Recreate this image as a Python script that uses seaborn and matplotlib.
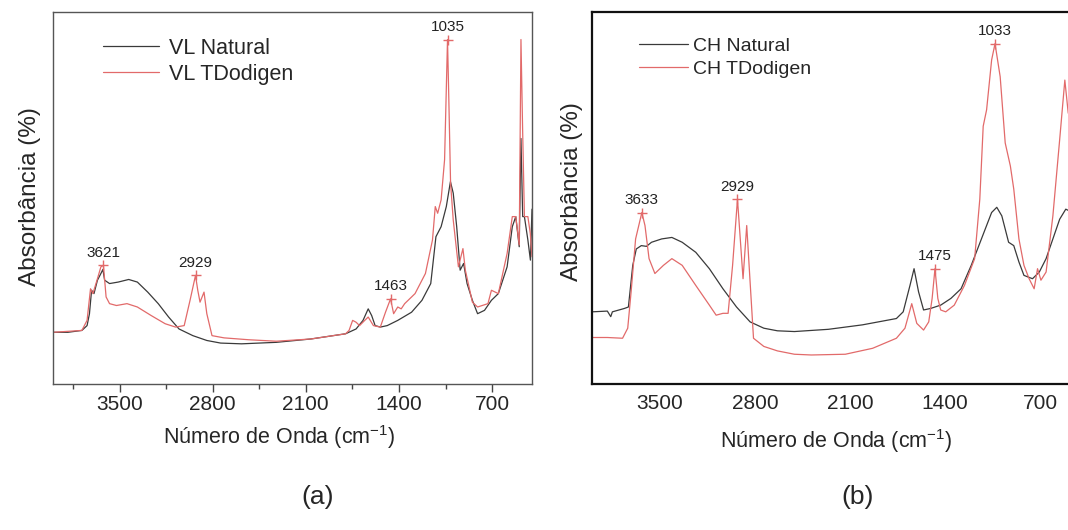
import pandas as pd
import matplotlib.pyplot as plt
import seaborn as sns

# Espectros FTIR: numero de onda (cm-1) y absorbancia (escala arbitraria 0-100)
vl_nat_wn = [4000, 3888, 3783, 3744, 3726, 3710, 3692, 3666, 3640, 3625, 3612, 3575, 3510, 3431,
             3366, 3288, 3209, 3131, 3053, 2949, 2844, 2740, 2583, 2322, 2062, 1801, 1722, 1670,
             1631, 1605, 1579, 1540, 1488, 1409, 1305, 1227, 1161, 1122, 1083, 1044, 1013, 992,
             966, 940, 914, 888, 848, 809, 757, 705, 653, 587, 548, 522, 496, 483, 470, 457,
             431, 412, 400]
vl_nat_ab = [13.9, 13.9, 14.4, 15.7, 18.9, 25.2, 24.3, 27.9, 29.7, 30.8, 27.9, 27.0, 27.4, 28.1,
             27.4, 24.7, 21.6, 18.0, 14.8, 13.0, 11.7, 11.0, 10.8, 11.2, 12.1, 13.5, 14.8, 17.1,
             20.2, 18.4, 15.7, 15.3, 15.7, 17.1, 19.3, 22.5, 27.0, 39.6, 42.3, 47.7, 54.4, 51.3,
             42.3, 30.6, 32.4, 27.0, 22.5, 18.9, 19.8, 22.5, 24.3, 31.5, 42.3, 45.0, 36.9, 66.0,
             45.0, 45.0, 38.7, 33.3, 47.0]

vl_td_wn = [4000, 3783, 3744, 3718, 3700, 3666, 3640, 3621, 3601, 3575, 3523, 3444, 3366, 3262,
            3157, 3079, 3014, 2970, 2929, 2912, 2895, 2865, 2844, 2805, 2714, 2531, 2322, 2062,
            1801, 1775, 1748, 1722, 1696, 1657, 1631, 1592, 1540, 1501, 1463, 1440, 1409, 1383,
            1357, 1279, 1201, 1148, 1127, 1109, 1083, 1057, 1035, 1025, 1012, 992, 953, 919,
            901, 848, 809, 731, 705, 653, 587, 548, 522, 496, 483, 470, 457, 431, 413, 400]
vl_td_ab = [13.9, 14.4, 17.1, 25.6, 24.3, 28.3, 31.5, 31.9, 23.4, 21.6, 21.1, 21.6, 20.7, 18.4,
            16.2, 15.3, 15.7, 22.5, 29.2, 25.2, 22.0, 24.7, 18.9, 13.0, 12.4, 11.9, 11.5, 12.1,
            13.5, 14.4, 17.1, 16.6, 15.7, 17.1, 18.0, 15.7, 15.3, 19.3, 22.9, 18.9, 20.7, 20.2,
            21.6, 24.3, 29.7, 38.7, 47.7, 45.9, 49.5, 60.3, 92.6, 76.4, 54.0, 44.1, 31.5, 36.4,
            30.6, 22.0, 20.7, 21.6, 25.2, 24.3, 35.1, 45.0, 45.0, 37.4, 92.6, 67.4, 45.0, 45.0,
            40.5, 34.2]

ch_nat_wn = [4000, 3887, 3862, 3850, 3762, 3732, 3700, 3674, 3637, 3599, 3562, 3487, 3412, 3336,
             3236, 3136, 3036, 2936, 2836, 2735, 2635, 2510, 2260, 2009, 1759, 1709, 1659, 1629,
             1596, 1559, 1508, 1433, 1358, 1283, 1208, 1133, 1095, 1058, 1020, 983, 933, 895,
             857, 820, 757, 707, 657, 607, 557, 512, 462, 420]
ch_nat_ab = [19.4, 19.6, 18.1, 19.4, 20.3, 20.7, 31.9, 36.3, 37.2, 37.0, 38.1, 39.0, 39.4, 38.1,
             35.4, 31.0, 25.6, 20.7, 16.7, 15.0, 14.3, 14.1, 14.7, 15.9, 17.6, 19.4, 26.5, 31.0,
             24.8, 19.9, 20.3, 21.2, 23.0, 25.6, 31.9, 39.0, 42.6, 46.1, 47.5, 45.2, 38.1, 37.2,
             32.8, 29.2, 28.3, 30.1, 33.7, 39.0, 44.3, 47.0, 46.1, 45.0]

ch_td_wn = [4000, 3887, 3775, 3737, 3712, 3679, 3633, 3610, 3580, 3537, 3474, 3412, 3336, 3236,
            3136, 3086, 3036, 2998, 2965, 2929, 2905, 2888, 2861, 2836, 2811, 2735, 2635, 2510,
            2385, 2135, 1934, 1759, 1696, 1646, 1609, 1559, 1521, 1496, 1475, 1454, 1433, 1396,
            1333, 1258, 1183, 1145, 1120, 1095, 1058, 1033, 995, 958, 920, 895, 857, 820, 782,
            745, 720, 695, 657, 607, 557, 519, 494, 462, 420]
ch_td_ab = [12.5, 12.5, 12.3, 15.0, 24.8, 39.0, 46.1, 42.6, 33.7, 29.7, 31.9, 33.7, 31.9, 26.5,
            21.2, 18.5, 19.0, 19.0, 31.9, 49.7, 37.2, 28.3, 42.6, 27.4, 12.3, 10.1, 8.9, 8.0,
            7.8, 8.0, 9.6, 12.3, 15.0, 21.6, 16.3, 14.5, 16.7, 23.0, 31.0, 23.0, 19.9, 19.4,
            21.2, 26.5, 33.7, 49.7, 69.3, 73.7, 87.1, 91.5, 82.6, 64.8, 58.6, 52.4, 39.0, 31.9,
            28.3, 25.6, 31.0, 27.9, 30.1, 45.2, 65.7, 81.7, 72.8, 88.9, 92.0]

# Picos marcados
vl_peak_wn = [3621, 2929, 1463, 1035]
vl_peak_ab = [31.9, 29.2, 22.9, 92.6]
ch_peak_wn = [3633, 2929, 1475, 1033]
ch_peak_ab = [46.1, 49.7, 31.0, 91.5]

x_ticks = [3500, 2800, 2100, 1400, 700]
x_minor = [3850, 3150, 2450, 1750, 1050]

NEGRO = '#3a3a3a'
ROJO = '#e26a6a'

sns.set_theme(style='white')
plt.rcParams['font.family'] = ['Liberation Sans', 'DejaVu Sans']
plt.rcParams['mathtext.fontset'] = 'custom'
plt.rcParams['mathtext.rm'] = 'Liberation Sans'
plt.rcParams['mathtext.it'] = 'Liberation Sans:italic'

W, H = 1068, 530
fig = plt.figure(figsize=(W / 100, H / 100), dpi=100)


def ejes_px(l, t, r, b):
    return fig.add_axes([l / W, 1 - b / H, (r - l) / W, (b - t) / H])


def panel(ax, wn1, ab1, wn2, ab2, nombres, pk_wn, pk_ab):
    sns.lineplot(x=wn1, y=ab1, color=NEGRO, lw=0.9, label=nombres[0], estimator=None, ax=ax)
    sns.lineplot(x=wn2, y=ab2, color=ROJO, lw=0.9, label=nombres[1], estimator=None, ax=ax)
    sns.scatterplot(x=pk_wn, y=pk_ab, marker='+', color=ROJO, s=45, linewidth=1, ax=ax, zorder=5)
    for w, a in zip(pk_wn, pk_ab):
        ax.annotate(str(w), (w, a), xytext=(0, 4), textcoords='offset points',
                    ha='center', va='bottom', fontsize=11, color='#222222')
    ax.set_xlim(4000, 400)
    ax.set_ylim(0, 100)
    ax.set_xticks(x_ticks)
    ax.set_yticks([])
    ax.set_xlabel('')
    ax.set_ylabel('')


# (a) VL
ax1 = ejes_px(53, 12, 532, 384)
panel(ax1, vl_nat_wn, vl_nat_ab, vl_td_wn, vl_td_ab, ['VL Natural', 'VL TDodigen'], vl_peak_wn, vl_peak_ab)
ax1.set_xticks(x_minor, minor=True)
ax1.tick_params(axis='x', which='major', direction='out', length=5.5, width=1, pad=2.5,
                labelsize=15, color='#444444', bottom=True)
ax1.tick_params(axis='x', which='minor', direction='out', length=3.8, width=1,
                color='#444444', bottom=True)
for s in ax1.spines.values():
    s.set_color('#555555')
    s.set_linewidth(1.0)
h, l = ax1.get_legend_handles_labels()
ax1.legend(h[:2], l[:2], loc='upper left', bbox_to_anchor=(103 / W, 1 - 38 / H),
           bbox_transform=fig.transFigure, frameon=False, borderpad=0, borderaxespad=0,
           fontsize=15.5, handlelength=2.6, handletextpad=0.45, labelspacing=0.22)

# (b) CH
ax2 = ejes_px(592, 12, 1081, 384)
panel(ax2, ch_nat_wn, ch_nat_ab, ch_td_wn, ch_td_ab, ['CH Natural', 'CH TDodigen'], ch_peak_wn, ch_peak_ab)
ax2.tick_params(axis='x', length=0, pad=7, labelsize=15)
for s in ax2.spines.values():
    s.set_color('#111111')
    s.set_linewidth(1.6)
h, l = ax2.get_legend_handles_labels()
ax2.legend(h[:2], l[:2], loc='upper left', bbox_to_anchor=(639 / W, 1 - 37 / H),
           bbox_transform=fig.transFigure, frameon=False, borderpad=0, borderaxespad=0,
           fontsize=14, handlelength=2.5, handletextpad=0.3, labelspacing=0.3)

# Textos
etiqueta_x = 'Número de Onda (cm$^{-1}$)'
fig.text(279 / W, 1 - 437 / H, etiqueta_x, ha='center', va='center', fontsize=15.5)
fig.text(836 / W, 1 - 441 / H, etiqueta_x, ha='center', va='center', fontsize=15.5)
fig.text(30 / W, 1 - 197 / H, 'Absorbância (%)', rotation=90, ha='center', va='center', fontsize=17.5)
fig.text(572 / W, 1 - 192 / H, 'Absorbância (%)', rotation=90, ha='center', va='center', fontsize=17.5)
fig.text(318 / W, 1 - 497 / H, '(a)', ha='center', va='center', fontsize=19)
fig.text(858 / W, 1 - 497 / H, '(b)', ha='center', va='center', fontsize=19)

fig.savefig('out.png', dpi=100)
